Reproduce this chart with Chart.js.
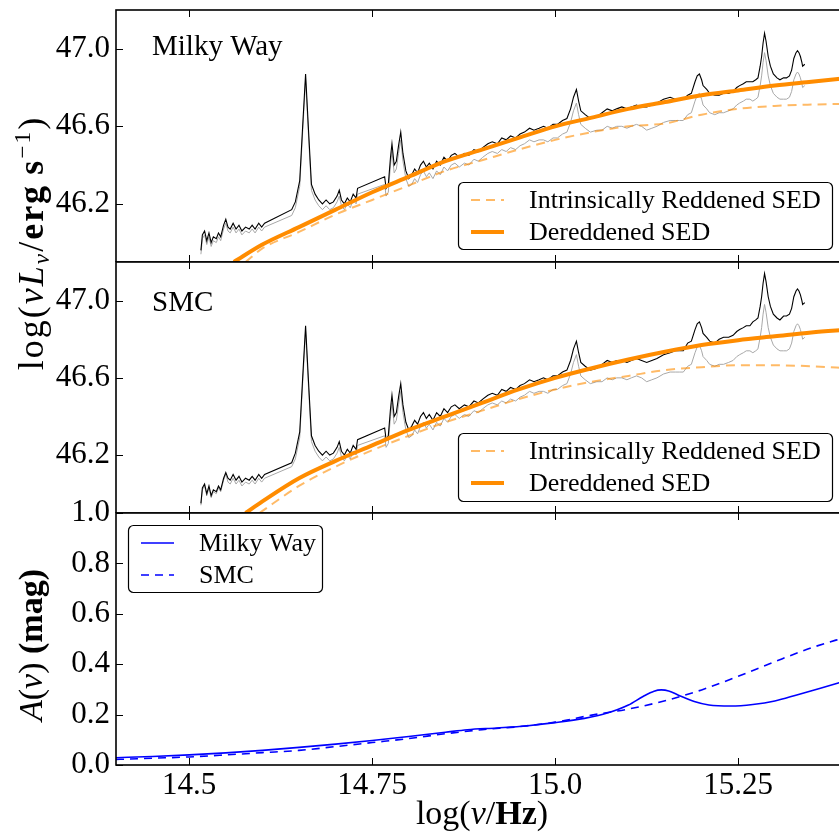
<!DOCTYPE html>
<html>
<head>
<meta charset="utf-8">
<script src="https://cdn.jsdelivr.net/npm/chart.js@4.4.1/dist/chart.umd.min.js"></script>
<style>
  html, body { margin: 0; padding: 0; background: #fff; width: 839px; height: 832px; overflow: hidden; }
  .panel { position: absolute; left: 0; width: 870px; }
  .axtitle { position: absolute; font-family: "Liberation Serif", serif; color: #000; white-space: nowrap;
             transform: translate(-50%, -50%); }
  .axtitle.vert { transform: translate(-50%, -50%) rotate(-90deg); }
  .axtitle sub { font-size: 0.65em; vertical-align: -0.25em; line-height: 0; }
  .axtitle sup { font-size: 0.65em; vertical-align: 0.55em; line-height: 0; }
</style>
</head>
<body>
<div class="panel" style="top:0;height:262px"><canvas id="cMW"></canvas></div>
<div class="panel" style="top:252px;height:261px"><canvas id="cSMC"></canvas></div>
<div class="panel" style="top:493px;height:339px"><canvas id="cExt"></canvas></div>

<div class="axtitle vert" style="left:31px;top:243px;font-size:36px;letter-spacing:2px">log(<i>νL</i><sub><i>ν</i></sub>/<b>erg</b>&thinsp;<b>s</b><sup>−1</sup>)</div>
<div class="axtitle vert" style="left:31px;top:645px;font-size:34px"><i>A</i>(<i>ν</i>) <b>(mag)</b></div>
<div class="axtitle" style="left:482px;top:813px;font-size:34px">log(<i>ν</i>/<b>Hz</b>)</div>

<script>
// axis ticks
const nuTicks = [14.5, 14.75, 15.0, 15.25];
const nuTickText = ['14.5', '14.75', '15.0', '15.25'];
const lumTicks = [46.2, 46.6, 47.0];
const extTicks = [0.0, 0.2, 0.4, 0.6, 0.8, 1.0];

// spectrum: log nu, observed, dereddened with MW law, dereddened with SMC law
const specNu = [14.516,14.518,14.521,14.524,14.527,14.530,14.533,14.537,14.540,14.543,14.547,14.550,14.553,14.556,14.560,14.564,14.568,14.572,14.577,14.582,14.586,14.590,14.595,14.599,14.603,
  14.640,14.645,14.651,14.655,14.659,14.663,14.667,14.672,14.677,14.682,14.687,14.692,14.697,14.702,14.705,14.708,14.712,14.716,14.720,14.724,14.728,14.730,
  14.767,14.769,14.772,14.775,14.777,14.780,14.783,14.786,14.789,14.792,14.796,14.800,14.804,14.808,14.812,14.816,14.820,14.824,14.828,14.833,14.838,14.843,14.848,14.853,14.858,
  14.863,14.869,14.876,14.882,14.889,14.895,14.901,14.908,14.914,14.921,14.927,14.933,14.939,14.946,14.952,14.958,14.965,14.971,14.978,14.984,
  14.990,14.997,15.003,15.010,15.016,15.021,15.025,15.029,15.032,15.035,15.041,15.048,15.057,15.064,15.071,15.078,15.084,15.091,15.098,15.104,
  15.111,15.118,15.125,15.132,15.139,15.148,15.157,15.164,15.170,15.175,15.181,15.186,15.191,15.194,15.197,15.200,15.202,15.207,15.211,15.218,
  15.224,15.230,15.237,15.243,15.248,15.252,15.257,15.261,15.266,15.270,15.274,15.277,15.280,15.282,15.284,15.286,15.288,15.291,15.294,15.298,
  15.303,15.307,15.312,15.316,15.320,15.323,15.326,15.329,15.331,15.333,15.335,15.337,15.338,15.341];

const obsFlux = [45.94,46.02,46.04,45.99,46.03,45.98,46.01,46.00,46.03,46.01,46.07,46.10,46.06,46.05,46.08,46.05,46.07,46.04,46.06,46.05,46.07,46.05,46.08,46.06,46.08,
  46.14,46.18,46.29,46.57,46.84,46.55,46.27,46.22,46.19,46.17,46.19,46.17,46.18,46.21,46.24,46.19,46.17,46.20,46.18,46.22,46.20,46.25,
  46.30,46.24,46.26,46.40,46.47,46.36,46.38,46.46,46.53,46.42,46.33,46.29,46.30,46.33,46.31,46.35,46.37,46.34,46.36,46.33,46.37,46.35,46.39,46.37,46.40,
  46.41,46.39,46.41,46.40,46.43,46.42,46.44,46.46,46.47,46.46,46.48,46.47,46.49,46.48,46.50,46.51,46.53,46.52,46.53,46.53,
  46.52,46.54,46.54,46.56,46.57,46.62,46.68,46.72,46.66,46.61,46.59,46.57,46.58,46.58,46.60,46.59,46.60,46.60,46.59,46.60,
  46.61,46.60,46.58,46.59,46.60,46.62,46.63,46.63,46.63,46.63,46.66,46.67,46.73,46.76,46.77,46.74,46.71,46.69,46.67,46.66,
  46.67,46.67,46.68,46.69,46.71,46.72,46.73,46.74,46.74,46.73,46.74,46.75,46.81,46.86,46.93,46.98,46.94,46.86,46.81,46.77,
  46.75,46.74,46.74,46.74,46.75,46.78,46.84,46.87,46.88,46.87,46.85,46.82,46.80,46.81];

const mwFlux = [45.96,46.04,46.06,46.01,46.05,46.00,46.03,46.02,46.05,46.03,46.09,46.12,46.08,46.07,46.10,46.07,46.09,46.06,46.08,46.07,46.09,46.07,46.10,46.08,46.10,
  46.17,46.21,46.32,46.60,46.87,46.58,46.30,46.25,46.22,46.20,46.22,46.20,46.21,46.24,46.27,46.22,46.20,46.23,46.21,46.25,46.23,46.28,
  46.34,46.28,46.30,46.44,46.51,46.40,46.42,46.50,46.57,46.46,46.37,46.33,46.35,46.38,46.36,46.40,46.42,46.39,46.41,46.38,46.42,46.40,46.44,46.42,46.45,
  46.46,46.44,46.46,46.45,46.48,46.47,46.49,46.51,46.52,46.51,46.54,46.53,46.55,46.54,46.56,46.57,46.59,46.58,46.59,46.60,
  46.59,46.61,46.61,46.63,46.64,46.69,46.75,46.79,46.73,46.68,46.66,46.64,46.65,46.67,46.69,46.68,46.69,46.70,46.69,46.70,
  46.71,46.70,46.70,46.71,46.72,46.74,46.75,46.74,46.74,46.74,46.76,46.77,46.83,46.86,46.87,46.84,46.81,46.79,46.77,46.76,
  46.76,46.77,46.77,46.78,46.80,46.81,46.82,46.83,46.83,46.83,46.84,46.85,46.91,46.96,47.03,47.08,47.04,46.96,46.91,46.87,
  46.85,46.84,46.85,46.85,46.86,46.89,46.95,46.98,46.99,46.98,46.96,46.93,46.91,46.92];

const smcFlux = [45.95,46.03,46.05,46.00,46.04,45.99,46.02,46.01,46.04,46.02,46.08,46.11,46.08,46.07,46.10,46.07,46.09,46.06,46.08,46.07,46.09,46.07,46.10,46.08,46.10,
  46.16,46.21,46.32,46.60,46.87,46.58,46.30,46.25,46.22,46.20,46.22,46.20,46.21,46.24,46.27,46.22,46.20,46.23,46.21,46.25,46.23,46.28,
  46.34,46.28,46.30,46.44,46.51,46.40,46.42,46.50,46.57,46.46,46.37,46.33,46.35,46.38,46.36,46.40,46.42,46.39,46.41,46.38,46.42,46.40,46.44,46.42,46.45,
  46.46,46.44,46.46,46.45,46.48,46.47,46.49,46.51,46.52,46.51,46.54,46.53,46.55,46.54,46.56,46.57,46.59,46.58,46.59,46.60,
  46.59,46.61,46.61,46.63,46.64,46.69,46.75,46.79,46.73,46.68,46.66,46.64,46.65,46.67,46.69,46.68,46.69,46.69,46.68,46.69,
  46.70,46.69,46.68,46.69,46.70,46.72,46.73,46.74,46.74,46.74,46.78,46.79,46.85,46.88,46.89,46.86,46.83,46.81,46.79,46.78,
  46.80,46.81,46.81,46.82,46.84,46.85,46.86,46.87,46.87,46.89,46.90,46.91,46.97,47.02,47.09,47.14,47.10,47.02,46.97,46.93,
  46.91,46.90,46.92,46.92,46.93,46.96,47.02,47.05,47.06,47.05,47.03,47.00,46.98,46.99];

// SED model curves
const mwSedNu  = [14.561,14.60,14.65,14.70,14.75,14.80,14.85,14.90,14.95,15.00,15.05,15.10,15.15,15.20,15.25,15.30,15.35,15.40];
const mwSedLum = [45.90,45.99,46.08,46.17,46.26,46.34,46.42,46.48,46.54,46.60,46.645,46.69,46.725,46.76,46.785,46.81,46.83,46.85];
const mwRedNu  = [14.577,14.60,14.65,14.70,14.75,14.80,14.85,14.90,14.95,15.00,15.05,15.10,15.15,15.20,15.25,15.30,15.35,15.40];
const mwRedLum = [45.90,45.97,46.055,46.145,46.22,46.295,46.37,46.425,46.48,46.53,46.57,46.60,46.615,46.66,46.69,46.705,46.712,46.716];
const smcSedNu  = [14.577,14.60,14.65,14.70,14.75,14.80,14.85,14.90,14.95,15.00,15.05,15.10,15.15,15.20,15.25,15.30,15.35,15.40];
const smcSedLum = [45.90,45.96,46.08,46.17,46.25,46.33,46.40,46.47,46.54,46.60,46.65,46.695,46.735,46.77,46.795,46.815,46.835,46.85];
const smcRedNu  = [14.596,14.65,14.70,14.75,14.80,14.85,14.90,14.95,15.00,15.05,15.10,15.15,15.20,15.25,15.30,15.35,15.40];
const smcRedLum = [45.90,46.04,46.14,46.225,46.30,46.37,46.43,46.49,46.54,46.58,46.61,46.64,46.655,46.665,46.665,46.66,46.65];

// extinction curves A(nu)
const mwExtNu = [14.40,14.45,14.50,14.55,14.60,14.65,14.70,14.75,14.80,14.85,14.88,14.92,14.96,15.00,15.04,15.07,15.10,15.12,15.135,15.145,15.155,15.17,15.19,15.21,15.24,15.27,15.30,15.33,15.36,15.40];
const mwExt   = [0.029,0.034,0.040,0.048,0.058,0.070,0.083,0.097,0.113,0.130,0.140,0.147,0.155,0.168,0.185,0.205,0.238,0.272,0.293,0.298,0.294,0.275,0.252,0.238,0.234,0.240,0.254,0.278,0.303,0.337];
const smcExtNu = [14.40,14.45,14.50,14.55,14.60,14.65,14.70,14.75,14.80,14.85,14.90,14.95,15.00,15.05,15.10,15.15,15.20,15.25,15.30,15.35,15.40];
const smcExt   = [0.022,0.027,0.032,0.040,0.049,0.058,0.073,0.089,0.105,0.124,0.140,0.152,0.170,0.198,0.222,0.255,0.298,0.352,0.410,0.465,0.510];

const serif = '"Liberation Serif", serif';
const tickFont = { family: serif, size: 31 };
const ORANGE = '#ff8c00';
const ORANGE_LIGHT = 'rgba(255,140,0,0.6)';
const BLUE = '#0000ff';

function pts(xs, ys) {
  return xs.map((v, i) => ({ x: v, y: ys[i] }));
}

// black frame with inward ticks on every side
const framePlugin = {
  id: 'frame',
  afterDraw(chart) {
    const { ctx, chartArea: a, scales: { x, y } } = chart;
    ctx.save();
    ctx.strokeStyle = '#000';
    ctx.lineWidth = 1;
    ctx.beginPath();
    nuTicks.forEach(v => {
      const px = Math.round(x.getPixelForValue(v)) + 0.5;
      ctx.moveTo(px, a.top); ctx.lineTo(px, a.top + 7);
      ctx.moveTo(px, a.bottom); ctx.lineTo(px, a.bottom - 7);
    });
    y.ticks.forEach(t => {
      const py = Math.round(y.getPixelForValue(t.value)) + 0.5;
      ctx.moveTo(a.left, py); ctx.lineTo(a.left + 7, py);
      ctx.moveTo(a.right, py); ctx.lineTo(a.right - 7, py);
    });
    ctx.stroke();
    ctx.lineWidth = 1.6;
    ctx.strokeRect(a.left, a.top, a.right - a.left, a.bottom - a.top);
    ctx.restore();
  }
};

// framed legend inside the axes, plus the panel name
const boxLegend = {
  id: 'boxLegend',
  afterDatasetsDraw(chart, args, opts) {
    const { ctx, chartArea: a } = chart;
    const w = opts.width, h = opts.height;
    const bx = opts.corner === 'br' ? a.right - opts.inset[0] - w : a.left + opts.inset[0];
    const by = opts.corner === 'br' ? a.bottom - opts.inset[1] - h : a.top + opts.inset[1];
    ctx.save();
    ctx.beginPath();
    ctx.roundRect(bx + 0.5, by + 0.5, w, h, 5);
    ctx.fillStyle = '#fff';
    ctx.fill();
    ctx.strokeStyle = '#000';
    ctx.lineWidth = 1.2;
    ctx.stroke();
    opts.items.forEach((idx, row) => {
      const ds = chart.data.datasets[idx];
      const cy = by + 18 + row * 32;
      ctx.beginPath();
      ctx.strokeStyle = ds.borderColor;
      ctx.lineWidth = ds.borderWidth;
      ctx.setLineDash(ds.borderDash || []);
      ctx.moveTo(bx + 13, cy);
      ctx.lineTo(bx + 46, cy);
      ctx.stroke();
      ctx.setLineDash([]);
      ctx.fillStyle = '#000';
      ctx.font = '26px ' + serif;
      ctx.textBaseline = 'middle';
      ctx.fillText(ds.label, bx + 71, cy + 1);
    });
    if (opts.name) {
      ctx.fillStyle = '#000';
      ctx.font = '29px ' + serif;
      ctx.textBaseline = 'alphabetic';
      ctx.fillText(opts.name, a.left + 36, a.top + opts.nameY);
    }
    ctx.restore();
  }
};

function makePanel(id, datasets, yScale, showX, padTop, legend) {
  return new Chart(document.getElementById(id), {
    type: 'line',
    data: { datasets: datasets },
    plugins: [framePlugin, boxLegend],
    options: {
      responsive: true,
      maintainAspectRatio: false,
      animation: false,
      events: [],
      layout: { padding: { top: padTop, right: 22, bottom: 0, left: 0 } },
      elements: { point: { radius: 0 } },
      plugins: { legend: { display: false }, tooltip: { enabled: false }, boxLegend: legend },
      scales: {
        x: {
          type: 'linear', min: 14.4, max: 15.4,
          display: showX,
          afterBuildTicks: s => { s.ticks = nuTicks.map(v => ({ value: v })); },
          afterFit: s => {
            s.height = showX ? 67 : 0;
            s.paddingLeft = 0; s.paddingRight = 0;
          },
          grid: { drawOnChartArea: false, drawTicks: false },
          border: { display: false },
          ticks: {
            font: tickFont, color: '#000', padding: 2, maxRotation: 0, autoSkip: false,
            callback: v => nuTickText[nuTicks.indexOf(v)]
          }
        },
        y: Object.assign({
          type: 'linear',
          afterFit: s => {
            s.width = 116;
            s.paddingTop = 0; s.paddingBottom = 0;
          },
          grid: { drawOnChartArea: false, drawTicks: false },
          border: { display: false },
          ticks: { font: tickFont, color: '#000', padding: 6, autoSkip: false, callback: v => v.toFixed(1) }
        }, yScale)
      }
    }
  });
}

function sedSets(dered, sedNu, sedLum, redNu, redLum) {
  return [
    { label: 'Intrinsically Reddened SED', data: pts(redNu, redLum), borderColor: ORANGE_LIGHT, borderWidth: 2,
      borderDash: [9, 6], cubicInterpolationMode: 'monotone', order: 1 },
    { label: 'Dereddened SED', data: pts(sedNu, sedLum), borderColor: ORANGE, borderWidth: 4,
      cubicInterpolationMode: 'monotone', order: 0 },
    { label: 'dereddened spectrum', data: pts(specNu, dered), borderColor: '#000', borderWidth: 1.1, tension: 0, order: 2 },
    { label: 'observed spectrum', data: pts(specNu, obsFlux), borderColor: '#a8a8a8', borderWidth: 1, tension: 0, order: 3 }
  ];
}

const lumScale = {
  min: 45.9, max: 47.2,
  afterBuildTicks: s => { s.ticks = lumTicks.map(v => ({ value: v })); }
};

makePanel('cMW', sedSets(mwFlux, mwSedNu, mwSedLum, mwRedNu, mwRedLum), lumScale, false, 10,
  { corner: 'br', inset: [16, 13], width: 374, height: 67, items: [0, 1], name: 'Milky Way', nameY: 45 });

makePanel('cSMC', sedSets(smcFlux, smcSedNu, smcSedLum, smcRedNu, smcRedLum), lumScale, false, 10,
  { corner: 'br', inset: [16, 12], width: 374, height: 68, items: [0, 1], name: 'SMC', nameY: 49 });

makePanel('cExt', [
    { label: 'Milky Way', data: pts(mwExtNu, mwExt), borderColor: BLUE, borderWidth: 1.6, cubicInterpolationMode: 'monotone' },
    { label: 'SMC', data: pts(smcExtNu, smcExt), borderColor: BLUE, borderWidth: 1.6, borderDash: [8, 6], cubicInterpolationMode: 'monotone' }
  ],
  { min: 0, max: 1.0, afterBuildTicks: s => { s.ticks = extTicks.map(v => ({ value: v })); } },
  true, 20,
  { corner: 'tl', inset: [12, 12], width: 194, height: 67, items: [0, 1] });
</script>
</body>
</html>
